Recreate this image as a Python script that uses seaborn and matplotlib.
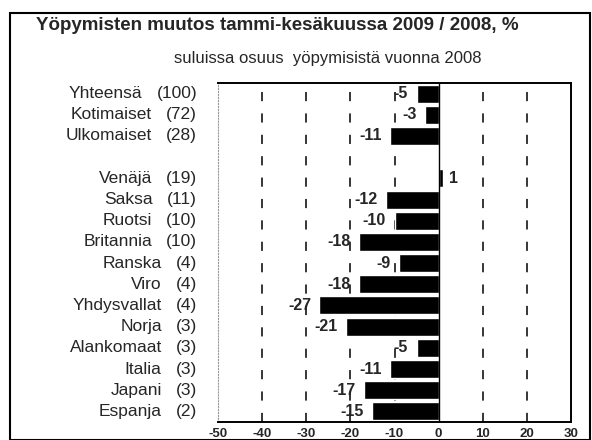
import numpy as np
import pandas as pd
import matplotlib
matplotlib.use("Agg")
import matplotlib.pyplot as plt
import matplotlib.transforms as mtrans
from matplotlib.patches import Rectangle
import seaborn as sns

## data
maat = ["Yhteensä", "Kotimaiset", "Ulkomaiset", "",
        "Venäjä", "Saksa", "Ruotsi", "Britannia", "Ranska", "Viro",
        "Yhdysvallat", "Norja", "Alankomaat", "Italia", "Japani", "Espanja"]
osuus = ["(100)", "(72)", "(28)", "",
         "(19)", "(11)", "(10)", "(10)", "(4)", "(4)",
         "(4)", "(3)", "(3)", "(3)", "(3)", "(2)"]
muutos = [-5, -3, -11, np.nan,
          1, -12, -10, -18, -9, -18, -27, -21, -5, -11, -17, -15]
xticks = [-50, -40, -30, -20, -10, 0, 10, 20, 30]

keys = ["r%d" % i for i in range(len(maat))]
df = pd.DataFrame({"key": keys, "maa": maat, "osuus": osuus, "muutos": muutos})

sns.set_theme(style="white")
plt.rcParams["font.family"] = ["Liberation Sans", "DejaVu Sans"]

W, H = 592, 440
fig = plt.figure(figsize=(W / 100, H / 100), dpi=100)
ax = fig.add_axes([218 / W, 1 - 422 / H, 353 / W, 339 / H])

sns.barplot(data=df, x="muutos", y="key", order=keys, color="black",
            saturation=1, width=0.85, orient="h", ax=ax, errorbar=None)

ax.set_xlim(-50, 30)
ax.set_ylim(len(keys) - 0.5, -0.5)
ax.set_xticks(xticks)
ax.set_xticklabels([str(t) for t in xticks], fontsize=9.5, fontweight="bold")
ax.tick_params(axis="x", length=0, pad=4)
ax.set_yticks([])
ax.set_xlabel("")
ax.set_ylabel("")

for t in xticks[1:-1]:
    if t != 0:
        ax.axvline(t, color="black", lw=1.1, ls=(0, (6, 8)), zorder=0)
ax.axvline(0, color="black", lw=1.0, zorder=3)

for s in ["top", "right", "bottom"]:
    ax.spines[s].set_color("black")
    ax.spines[s].set_linewidth(1.4)
ax.spines["left"].set_color("#999999")
ax.spines["left"].set_linestyle(":")
ax.spines["left"].set_linewidth(0.8)

# value labels
for i, v in enumerate(muutos):
    if np.isnan(v):
        continue
    if v < 0:
        ax.text(v - 1.9, i, "%d" % v, ha="right", va="center",
                fontsize=11.5, fontweight="bold")
    else:
        ax.text(v + 1.4, i, "%d" % v, ha="left", va="center",
                fontsize=11.5, fontweight="bold")

# left labels: name + share
trans = mtrans.blended_transform_factory(fig.transFigure, ax.transData)
fig.canvas.draw()
rend = fig.canvas.get_renderer()
for i, (m, o) in enumerate(zip(maat, osuus)):
    if m == "":
        continue
    t = ax.text(197 / W, i, o, transform=trans, ha="right", va="center", fontsize=12.5)
    x0 = t.get_window_extent(rend).x0
    ax.text((x0 - 14) / W, i, m, transform=trans, ha="right", va="center", fontsize=12.5)

fig.text(36 / W, 1 - 26 / H, "Yöpymisten muutos tammi-kesäkuussa 2009 / 2008, %",
         ha="left", va="center", fontsize=13.5, fontweight="bold")
fig.text(328 / W, 1 - 58 / H, "suluissa osuus  yöpymisistä vuonna 2008",
         ha="center", va="center", fontsize=12)

fig.add_artist(Rectangle((10 / W, 0), 580 / W, 1 - 13 / H,
                         transform=fig.transFigure, fill=False,
                         edgecolor="black", lw=1.5))

fig.savefig("out.png", dpi=100)
